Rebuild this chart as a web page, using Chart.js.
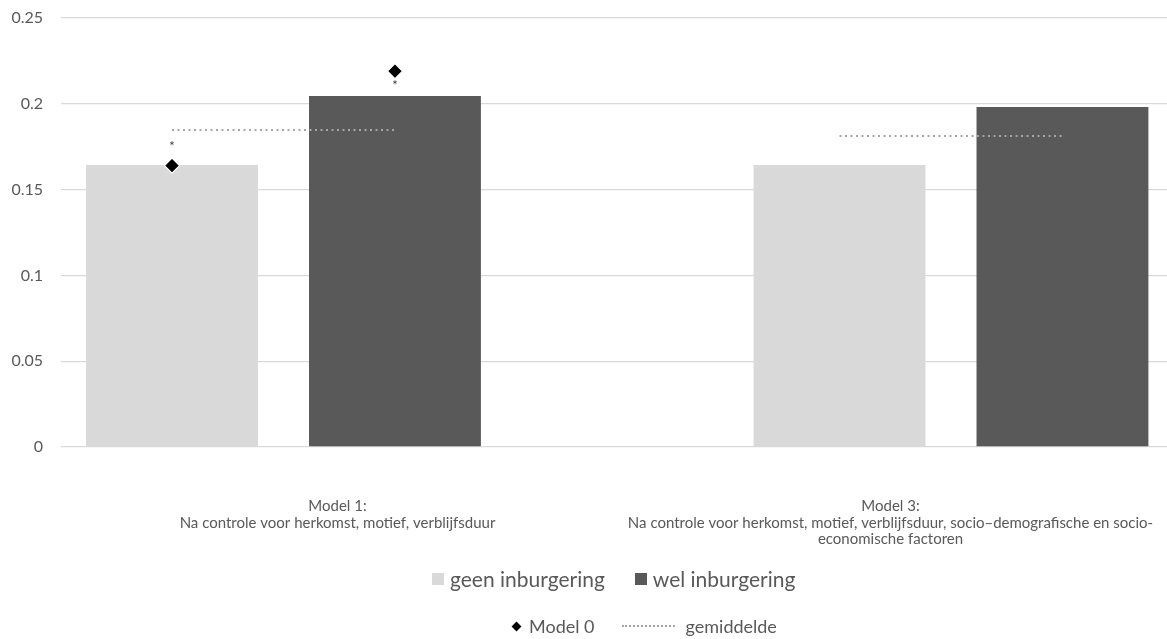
<!DOCTYPE html>
<html>
<head>
<meta charset="utf-8">
<script src="https://cdn.jsdelivr.net/npm/chart.js@4/dist/chart.umd.min.js"></script>
<style>
  html, body { margin: 0; padding: 0; background: #ffffff; }
  #wrap { position: relative; width: 1167px; height: 639px; }
  #legend { position: absolute; left: 0; top: 0; width: 1167px; height: 639px; pointer-events: none;
            font-family: Lato, "Open Sans", sans-serif; color: #595959; }
  .row { position: absolute; display: flex; align-items: center; white-space: nowrap; }
  .item { display: flex; align-items: center; }
  .sq { width: 12px; height: 12px; margin-right: 6px; }
  .dia { width: 7px; height: 7px; background: #000; transform: rotate(45deg); margin: 0 9px 0 2px; }
  .dot { width: 53px; border-top: 2px dotted #a6a6a6; margin-right: 11px; }
</style>
</head>
<body>
<div id="wrap">
  <canvas id="c" width="1167" height="639"></canvas>
  <div id="legend"></div>
</div>
<script>
// ---- data ----
const categoryLabels = [
  ["Model 1:", "Na controle voor herkomst, motief, verblijfsduur"],
  ["Model 3:", "Na controle voor herkomst, motief, verblijfsduur, socio\u2013demografische en socio-", "economische factoren"]
];
const categoryPositions = [1, 2];
const yTickLabels = ["0", "0.05", "0.1", "0.15", "0.2", "0.25"];
const geenInburgering = [0.1643, 0.1643];
const welInburgering = [0.2045, 0.1981];
const model0Geen = [0.164, null];
const model0Wel = [0.219, null];
const model0Significance = [["*", "above"], ["*", "below"]]; // Model 1: geen, wel
const gemiddelde = [0.1847, 0.1812];
const seriesNames = ["geen inburgering", "wel inburgering", "Model 0", "gemiddelde"];

// ---- layout constants ----
const CAT_PCT = 0.668;
const BAR_PCT = 0.771;
const SLOT_OFF = CAT_PCT / 4; // centre offset of each bar in a group (x units)

// build point lists from arrays
const geenPts = categoryPositions.map((x, i) => ({ x: x, y: geenInburgering[i] }));
const welPts = categoryPositions.map((x, i) => ({ x: x, y: welInburgering[i] }));
const model0Pts = [];
categoryPositions.forEach((x, i) => {
  if (model0Geen[i] !== null) model0Pts.push({ x: x - SLOT_OFF, y: model0Geen[i] });
  if (model0Wel[i] !== null) model0Pts.push({ x: x + SLOT_OFF, y: model0Wel[i] });
});
const meanPts = [];
categoryPositions.forEach((x, i) => {
  if (i > 0) meanPts.push({ x: (categoryPositions[i - 1] + x) / 2, y: null });
  meanPts.push({ x: x - SLOT_OFF, y: gemiddelde[i] });
  meanPts.push({ x: x + SLOT_OFF, y: gemiddelde[i] });
});

const sigPlugin = {
  id: 'sig',
  afterDatasetsDraw(chart) {
    const idx = chart.data.datasets.findIndex(d => d.label === seriesNames[2]);
    const meta = chart.getDatasetMeta(idx);
    const ctx = chart.ctx;
    ctx.save();
    ctx.fillStyle = '#404040';
    ctx.font = '13px Lato, sans-serif';
    ctx.textAlign = 'center';
    ctx.textBaseline = 'middle';
    meta.data.forEach((pt, i) => {
      const s = model0Significance[i];
      if (!s) return;
      const y = s[1] === 'above' ? pt.y - 21 : pt.y + 13;
      ctx.fillText(s[0], pt.x, y + 2);
    });
    ctx.restore();
  }
};

const chart = new Chart(document.getElementById('c'), {
  data: {
    labels: categoryLabels,
    datasets: [
      { type: 'bar', label: seriesNames[0], data: geenPts, backgroundColor: '#d9d9d9', xAxisID: 'xb',
        categoryPercentage: CAT_PCT, barPercentage: BAR_PCT, order: 2 },
      { type: 'bar', label: seriesNames[1], data: welPts, backgroundColor: '#595959', xAxisID: 'xb',
        categoryPercentage: CAT_PCT, barPercentage: BAR_PCT, order: 2 },
      { type: 'scatter', label: seriesNames[2], data: model0Pts, pointStyle: 'rectRot', xAxisID: 'xb',
        pointRadius: 7.5, backgroundColor: '#000000', borderColor: '#ffffff', borderWidth: 1.2, order: 0 },
      { type: 'line', label: seriesNames[3], data: meanPts, borderColor: '#a6a6a6', borderWidth: 2, xAxisID: 'xb',
        borderDash: [2, 3.5], pointRadius: 0, spanGaps: false, fill: false, order: 1 }
    ]
  },
  options: {
    responsive: false,
    animation: false,
    layout: { autoPadding: false, padding: { top: 18, right: 0, left: 0, bottom: 0 } },
    plugins: { legend: { display: false }, tooltip: { enabled: false } },
    scales: {
      x: {
        type: 'category',
        position: 'bottom',
        offset: true,
        grid: { display: false, drawTicks: false },
        border: { display: false },
        afterFit(scale) { scale.height = 192; scale.paddingLeft = 0; scale.paddingRight = 0; },
        ticks: {
          autoSkip: false,
          maxRotation: 0,
          padding: 51,
          color: '#595959',
          font: { family: 'Lato, sans-serif', size: 15, lineHeight: 1.1 }
        }
      },
      xb: {
        type: 'linear',
        position: 'bottom',
        display: false,
        offset: false,
        bounds: 'data',
        min: 0.6667,
        max: 2.3236,
        grid: { display: false },
        afterBuildTicks(scale) { scale.ticks = categoryPositions.map(v => ({ value: v })); }
      },
      y: {
        min: 0,
        max: 0.25,
        grid: { color: '#d9d9d9', lineWidth: 1.3, drawTicks: false },
        border: { display: false },
        afterFit(scale) { scale.width = 61; scale.paddingTop = 0; scale.paddingBottom = 0; },
        ticks: {
          stepSize: 0.05,
          padding: 18,
          color: '#595959',
          font: { family: 'Lato, sans-serif', size: 16 },
          callback: (v, i) => yTickLabels[i]
        }
      }
    }
  },
  plugins: [sigPlugin]
});

// ---- HTML legend built from dataset labels ----
const ds = chart.data.datasets;
const leg = document.getElementById('legend');
leg.innerHTML =
  '<div class="row" style="left:432px;top:566px;font-size:21px;">' +
    '<div class="item"><div class="sq" style="background:' + ds[0].backgroundColor + '"></div>' + ds[0].label + '</div>' +
    '<div class="item" style="margin-left:30px"><div class="sq" style="background:' + ds[1].backgroundColor + '"></div>' + ds[1].label + '</div>' +
  '</div>' +
  '<div class="row" style="left:511px;top:615px;font-size:18px;">' +
    '<div class="item"><div class="dia"></div>' + ds[2].label + '</div>' +
    '<div class="item" style="margin-left:27px"><div class="dot"></div>' + ds[3].label + '</div>' +
  '</div>';
</script>
</body>
</html>
